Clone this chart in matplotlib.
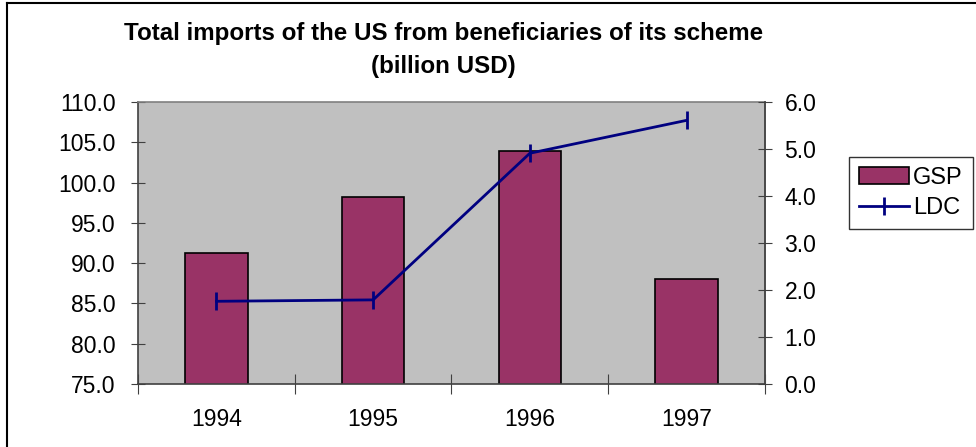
import matplotlib
matplotlib.use("Agg")
import matplotlib.pyplot as plt
from matplotlib.lines import Line2D
import numpy as np

plt.rcParams['font.family'] = ['Liberation Sans', 'DejaVu Sans']

years = ['1994', '1995', '1996', '1997']
gsp = [91.2, 98.2, 103.9, 88.0]      # left axis, billion USD
ldc = [1.76, 1.79, 4.91, 5.61]       # right axis, billion USD

fig = plt.figure(figsize=(9.76, 4.47), dpi=100)
ax = fig.add_axes([0.1414, 0.1409, 0.6424, 0.6309])
ax.set_facecolor('#C0C0C0')

x = np.arange(len(years))
ax.bar(x, gsp, width=0.4, color='#993366', edgecolor='black', linewidth=1.2,
       label='GSP', zorder=2)
ax.set_xlim(-0.5, 3.5)
ax.set_ylim(75, 110)
ax.set_yticks(np.arange(75, 110.1, 5))
ax.set_yticklabels(['%.1f' % v for v in np.arange(75, 110.1, 5)])

# ticks between categories, labels at the centres
ax.set_xticks(np.arange(-0.5, 4, 1))
ax.set_xticklabels([])
ax.set_xticks(x, minor=True)
ax.set_xticklabels(years, minor=True)
ax.tick_params(axis='x', which='major', direction='inout', length=14, color='#404040')
ax.tick_params(axis='x', which='minor', length=0, pad=17, labelsize=16.5)
ax.tick_params(axis='y', direction='inout', length=10, color='#404040',
               labelsize=16.5, pad=11)

for s in ['left', 'bottom']:
    ax.spines[s].set_color('#404040')
    ax.spines[s].set_linewidth(1.2)
for s in ['top', 'right']:
    ax.spines[s].set_color('#808080')
    ax.spines[s].set_linewidth(1.2)

ax2 = ax.twinx()
ax2.plot(x, ldc, color='#000080', linewidth=2, marker='|', markersize=13,
         markeredgewidth=2, label='LDC')
ax2.set_ylim(0, 6)
ax2.set_yticks(np.arange(0, 6.1, 1))
ax2.set_yticklabels(['%.1f' % v for v in np.arange(0, 6.1, 1)])
ax2.tick_params(axis='y', direction='inout', length=10, color='#404040',
                labelsize=16.5, pad=9)
ax2.spines['right'].set_color('#404040')
ax2.spines['right'].set_linewidth(1.2)
for s in ['top', 'left', 'bottom']:
    ax2.spines[s].set_visible(False)

h1, l1 = ax.get_legend_handles_labels()
h2, l2 = ax2.get_legend_handles_labels()
leg = fig.legend(h1 + h2, l1 + l2, loc='upper left',
                 bbox_to_anchor=(0.870, 0.649), fontsize=17, frameon=True,
                 fancybox=False, edgecolor='black', borderaxespad=0,
                 handlelength=2.1, handleheight=0.7, handletextpad=0.2,
                 borderpad=0.42, labelspacing=0.35)
leg.get_frame().set_linewidth(1)

fig.text(0.454, 0.926, 'Total imports of the US from beneficiaries of its scheme',
         ha='center', va='center', fontsize=17.4, fontweight='bold')
fig.text(0.454, 0.852, '(billion USD)', ha='center', va='center',
         fontsize=17.4, fontweight='bold')

# chart border
fig.add_artist(Line2D([0.007, 1.0], [0.994, 0.994], color='black', linewidth=1.5))
fig.add_artist(Line2D([0.007, 0.007], [0.0, 0.994], color='black', linewidth=1.5))

fig.savefig('out.png', dpi=100)
